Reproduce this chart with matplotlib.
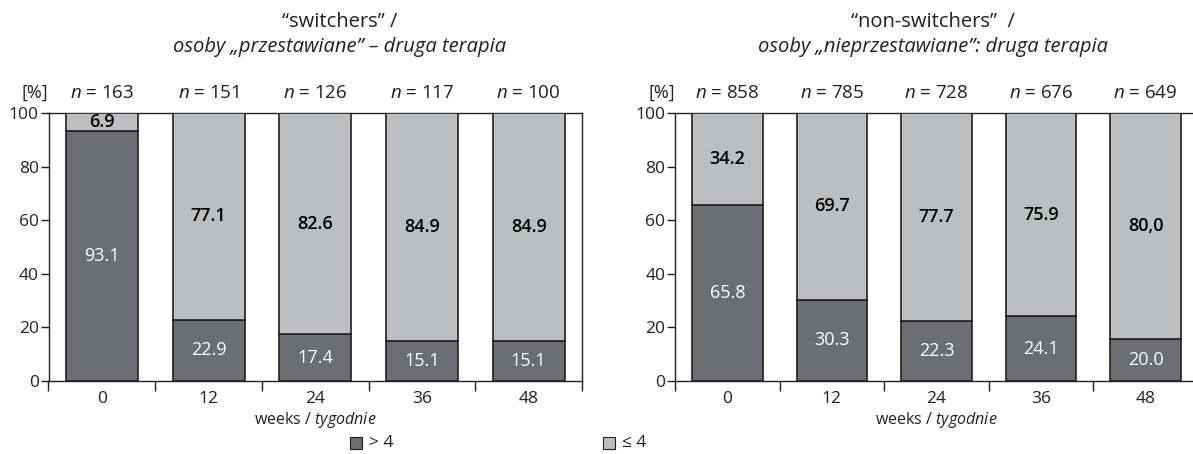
import matplotlib
matplotlib.use("Agg")
import matplotlib.pyplot as plt
import numpy as np

plt.rcParams['font.family'] = ['Open Sans', 'DejaVu Sans']
plt.rcParams['mathtext.fontset'] = 'custom'
plt.rcParams['mathtext.rm'] = 'Open Sans'
plt.rcParams['mathtext.it'] = 'Open Sans:italic'

# data
weeks = ['0', '12', '24', '36', '48']

sw_n = [163, 151, 126, 117, 100]
sw_high = [93.1, 22.9, 17.4, 15.1, 15.1]          # > 4
sw_high_lbl = ['93.1', '22.9', '17.4', '15.1', '15.1']
sw_low_lbl = ['6.9', '77.1', '82.6', '84.9', '84.9']

nsw_n = [858, 785, 728, 676, 649]
nsw_high = [65.8, 30.3, 22.3, 24.1, 15.5]         # drawn height (label of last bar says 20.0)
nsw_high_lbl = ['65.8', '30.3', '22.3', '24.1', '20.0']
nsw_low_lbl = ['34.2', '69.7', '77.7', '75.9', '80,0']

dark = '#6d6e71'
light = '#bcbec0'
edge = '#231f20'
txt = '#231f20'
W, H = 1193, 454
fs = 12.5

fig = plt.figure(figsize=(W / 100, H / 100), dpi=100)


def panel(x0, x1, n, high, high_lbl, low_lbl):
    ax = fig.add_axes([x0 / W, (H - 381) / H, (x1 - x0) / W, 268 / H])
    x = np.arange(len(weeks))
    low = [100 - h for h in high]
    ax.bar(x, high, width=0.675, color=dark, edgecolor=edge, linewidth=1.2, zorder=3)
    ax.bar(x, low, bottom=high, width=0.675, color=light, edgecolor=edge, linewidth=1.2, zorder=3)
    for i in x:
        ax.text(i, high[i] / 2, high_lbl[i], ha='center', va='center',
                color='white', fontsize=13, zorder=4)
        ax.text(i, high[i] + low[i] / 2, low_lbl[i], ha='center', va='center',
                color='black', fontsize=13, fontweight='semibold', zorder=4)
        ax.text(i, 104, '$n$ = %d' % n[i], ha='center', va='bottom',
                color=txt, fontsize=13.5, clip_on=False)
    ax.text(-0.5, 104, '[%]', ha='right', va='bottom', color=txt,
            fontsize=13, clip_on=False)
    ax.set_xlim(-0.5, 4.5)
    ax.set_ylim(0, 100)
    ax.set_yticks([0, 20, 40, 60, 80, 100])
    ax.set_xticks(x)
    ax.set_xticklabels(weeks)
    ax.set_xticks(np.arange(-0.5, 5, 1), minor=True)
    ax.tick_params(axis='x', which='major', length=0, pad=7, labelsize=fs, labelcolor=txt)
    ax.tick_params(axis='x', which='minor', length=7, width=1, color=edge)
    ax.tick_params(axis='y', length=6, width=1, color=edge, pad=1, labelsize=fs, labelcolor=txt)
    for s in ax.spines.values():
        s.set_color(edge)
        s.set_linewidth(1)
    ax.set_xlabel('weeks / $\\mathit{tygodnie}$', fontsize=11.5, color=txt, labelpad=2)
    return ax


ax1 = panel(48.5, 582, sw_n, sw_high, sw_high_lbl, sw_low_lbl)
ax2 = panel(675, 1198, nsw_n, nsw_high, nsw_high_lbl, nsw_low_lbl)

tfs = 14.5
fig.text(340 / W, 1 - 22 / H, '\u201cswitchers\u201d /', ha='center', va='center',
         fontsize=tfs, color=txt)
fig.text(340 / W, 1 - 47 / H, 'osoby \u201eprzestawiane\u201d \u2013 druga terapia', ha='center',
         va='center', fontsize=tfs, style='italic', color=txt)
fig.text(933 / W, 1 - 22 / H, '\u201cnon-switchers\u201d  /', ha='center', va='center',
         fontsize=tfs, color=txt)
fig.text(933 / W, 1 - 47 / H, 'osoby \u201enieprzestawiane\u201d: druga terapia', ha='center',
         va='center', fontsize=tfs, style='italic', color=txt)

# legend
for xs, col, lab in [(350, dark, '> 4'), (603, light, '\u2264 4')]:
    fig.patches.append(plt.Rectangle((xs / W, 1 - 449 / H), 12 / W, 12 / H,
                                     transform=fig.transFigure, facecolor=col,
                                     edgecolor=edge, linewidth=0.8))
    fig.text((xs + 19) / W, 1 - 443 / H, lab, ha='left', va='center',
             fontsize=fs, color=txt)

fig.savefig('out.png', dpi=100)
